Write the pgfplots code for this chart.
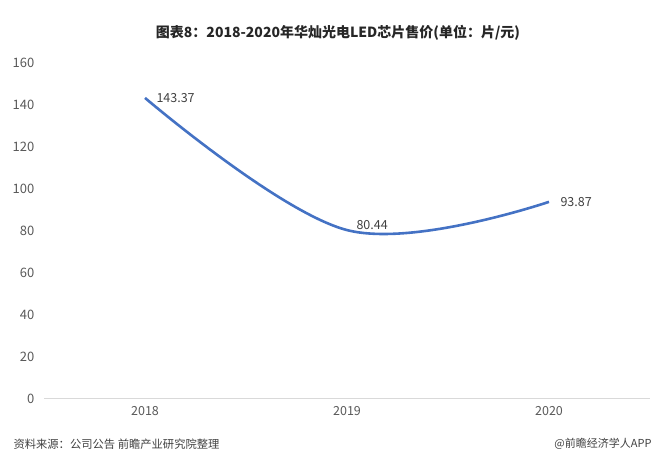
\documentclass[border=0pt]{standalone}
\usepackage{pgfplots}
\pgfplotsset{compat=1.18}
\usepackage{fontspec}
\setmainfont{Noto Sans CJK SC}
\definecolor{linec}{RGB}{68,114,196}
\definecolor{tickc}{RGB}{89,89,89}
\definecolor{axc}{RGB}{217,217,217}
\definecolor{labc}{RGB}{64,64,64}
\begin{document}
\begin{tikzpicture}[x=1bp,y=1bp]
\useasboundingbox (0,0) rectangle (662,457);
\begin{axis}[
  at={(44bp,58bp)}, anchor=south west,
  scale only axis, width=606bp, height=336bp,
  xmin=-0.5, xmax=2.5, ymin=0, ymax=160,
  axis x line=bottom, axis y line=left,
  axis line style={-},
  x axis line style={draw=axc, line width=1bp},
  y axis line style={draw=none},
  tick style={draw=none},
  xtick={0,1,2}, xticklabels={2018,2019,2020},
  ytick={0,20,40,60,80,100,120,140,160},
  /pgf/number format/assume math mode=true,
  ticklabel style={font=\fontsize{12.5bp}{14bp}\selectfont, text=tickc},
  yticklabel style={anchor=east, xshift=-4bp, font=\fontsize{13bp}{15bp}\selectfont},
  xticklabel style={anchor=center, yshift=-10bp},
  clip=false,
]
\addplot[linec, line width=2.6bp, smooth, tension=0.6]
  coordinates {(0,143.37) (1,80.44) (2,93.87)};
\addplot[draw=none, forget plot,
  nodes near coords, point meta=explicit symbolic,
  every node near coord/.append style={anchor=west, xshift=8bp, text=labc, font=\fontsize{12.5bp}{14bp}\selectfont}]
  coordinates {(0,143.37)[143.37] (2,93.87)[93.87]};
\addplot[draw=none, forget plot,
  nodes near coords, point meta=explicit symbolic,
  every node near coord/.append style={anchor=west, xshift=6bp, yshift=5bp, text=labc, font=\fontsize{12.5bp}{14bp}\selectfont}]
  coordinates {(1,80.44)[80.44]};
\end{axis}
\node[font=\fontsize{14bp}{16bp}\selectfont\bfseries, text=black!85] at (338,424) {图表8：2018-2020年华灿光电LED芯片售价(单位：片/元)};
\node[anchor=west, font=\fontsize{11.3bp}{13bp}\selectfont, text=black!75] at (10,13) {资料来源：公司公告 前瞻产业研究院整理};
\node[anchor=east, font=\fontsize{11bp}{13bp}\selectfont, text=black!75] at (655,13) {@前瞻经济学人APP};
\end{tikzpicture}
\end{document}
